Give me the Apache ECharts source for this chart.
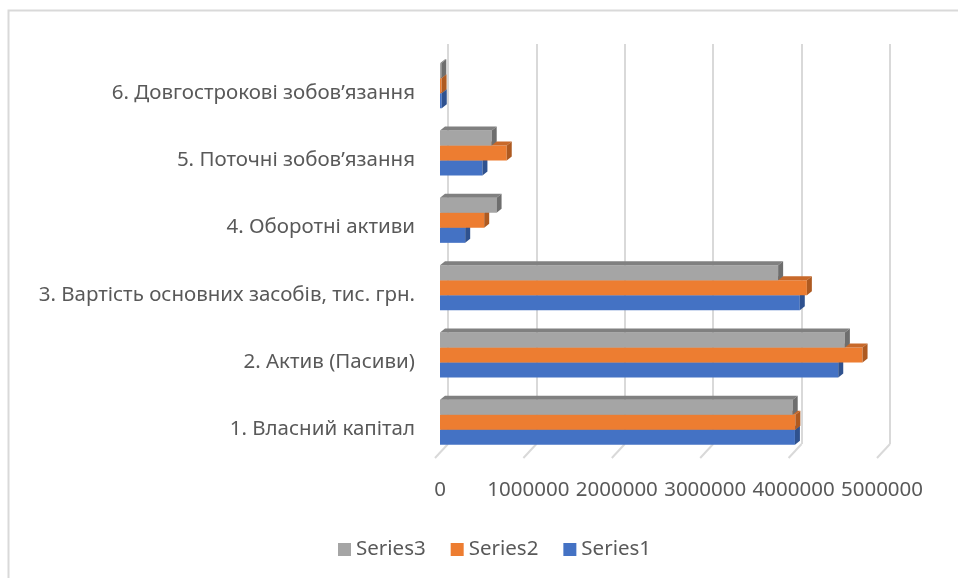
<!DOCTYPE html>
<html>
<head>
<meta charset="utf-8">
<script src="https://cdn.jsdelivr.net/npm/echarts@6/dist/echarts.min.js"></script>
<style>
  html, body { margin: 0; padding: 0; background: #ffffff; }
  #chart { width: 958px; height: 578px; }
</style>
</head>
<body>
<div id="chart"></div>
<script>
// Categories from bottom to top of the chart
const categories = [
  '1. Власний капітал',
  '2. Актив (Пасиви)',
  '3. Вартість основних засобів, тис. грн.',
  '4. Оборотні активи',
  '5. Поточні зобов’язання',
  '6. Довгострокові зобов’язання'
];
const series1 = [4015000, 4505000, 4070000, 285000, 480000, 20000];
const series2 = [4020000, 4780000, 4150000, 500000, 755000, 18000];
const series3 = [3990000, 4580000, 3825000, 640000, 585000, 15000];
const tickValues = [0, 1000000, 2000000, 3000000, 4000000, 5000000];

const FONT = 'Noto Sans';
const TEXT = '#595959';

// face colours: front, top, side
const palette = {
  Series1: ['#4472C4', '#3A62A8', '#2F528F'],
  Series2: ['#ED7D31', '#C8692A', '#AE5A21'],
  Series3: ['#A5A5A5', '#808080', '#6E6E6E']
};

const DX = 5, DY = 4;     // bar depth offset
const BAR_H = 15;         // front face height

// slot: 0 = lowest bar (Series1), 2 = top bar (Series3)
function barRenderer(name, slot) {
  const c = palette[name];
  return function (params, api) {
    const v = api.value(0);
    const cat = api.value(1);
    const p0 = api.coord([0, cat]);
    const p1 = api.coord([v, cat]);
    const yc = p0[1];
    const y0 = yc - 1.5 * BAR_H + (2 - slot) * BAR_H;
    const x0 = p0[0], x1 = p1[0];
    return {
      type: 'group',
      children: [
        {
          type: 'rect',
          shape: { x: x0, y: y0, width: x1 - x0, height: BAR_H },
          style: { fill: c[0] }
        },
        {
          type: 'polygon',
          shape: { points: [[x0, y0], [x1, y0], [x1 + DX, y0 - DY], [x0 + DX, y0 - DY]] },
          style: { fill: c[1] }
        },
        {
          type: 'polygon',
          shape: { points: [[x1, y0], [x1 + DX, y0 - DY], [x1 + DX, y0 + BAR_H - DY], [x1, y0 + BAR_H]] },
          style: { fill: c[2] }
        }
      ]
    };
  };
}

function barSeries(name, values, slot) {
  return {
    name: name,
    type: 'custom',
    xAxisIndex: 0,
    yAxisIndex: 0,
    itemStyle: { color: palette[name][0] },
    encode: { x: 0, y: 1 },
    data: values.map((v, i) => [v, i]),
    renderItem: barRenderer(name, slot),
    z: 3
  };
}

const chart = echarts.init(document.getElementById('chart'), null, { renderer: 'canvas' });

chart.setOption({
  backgroundColor: '#ffffff',
  animation: false,
  textStyle: { fontFamily: FONT },
  graphic: [{
    type: 'rect',
    shape: { x: 8.5, y: 10.5, width: 1200, height: 1000 },
    style: { fill: 'none', stroke: '#d9d9d9', lineWidth: 2 },
    silent: true
  }],
  legend: {
    data: ['Series3', 'Series2', 'Series1'],
    left: 338,
    top: 539,
    padding: 0,
    icon: 'rect',
    itemWidth: 13,
    itemHeight: 13,
    itemGap: 25,
    textStyle: { color: TEXT, fontSize: 20.5, fontFamily: FONT }
  },
  grid: [
    { left: 440, width: 442, top: 52, height: 404 },   // front plane: bars
    { left: 448, width: 442, top: 44, height: 400 },   // back wall: gridlines
    { left: 440, width: 442, top: 59, height: 404 }    // category labels
  ],
  xAxis: [
    {
      gridIndex: 0, type: 'value', min: 0, max: 5000000, interval: 1000000,
      axisLine: { show: false }, axisTick: { show: false }, splitLine: { show: false },
      axisLabel: {
        color: TEXT, fontSize: 20.5, fontFamily: FONT, margin: 24,
        showMinLabel: true, showMaxLabel: true, hideOverlap: false,
        formatter: v => String(v)
      }
    },
    {
      gridIndex: 1, type: 'value', min: 0, max: 5000000, interval: 1000000,
      axisLine: { show: false }, axisTick: { show: false }, axisLabel: { show: false },
      splitLine: { show: true, lineStyle: { color: '#d9d9d9', width: 2 } }
    },
    {
      gridIndex: 2, type: 'value', min: 0, max: 5000000, show: false
    }
  ],
  yAxis: [
    {
      gridIndex: 0, type: 'category', data: categories,
      axisLine: { show: false }, axisTick: { show: false }, axisLabel: { show: false }
    },
    {
      gridIndex: 1, type: 'category', data: categories, show: false
    },
    {
      gridIndex: 2, type: 'category', data: categories,
      axisLine: { show: false }, axisTick: { show: false }, splitLine: { show: false },
      axisLabel: { color: TEXT, fontSize: 20.5, fontFamily: FONT, margin: 25 }
    }
  ],
  series: [
    {
      // slanted floor ticks joining the back wall to the front edge
      type: 'custom',
      xAxisIndex: 1,
      yAxisIndex: 1,
      silent: true,
      encode: { x: 0 },
      data: tickValues.map(v => [v, 0]),
      renderItem: function (params, api) {
        const x = api.coord([api.value(0), 0])[0];
        const yb = params.coordSys.y + params.coordSys.height;
        return {
          type: 'line',
          shape: { x1: x, y1: yb, x2: x - 13, y2: yb + 14 },
          style: { stroke: '#d9d9d9', lineWidth: 2 }
        };
      },
      z: 1
    },
    barSeries('Series1', series1, 0),
    barSeries('Series2', series2, 1),
    barSeries('Series3', series3, 2)
  ]
});
</script>
</body>
</html>
